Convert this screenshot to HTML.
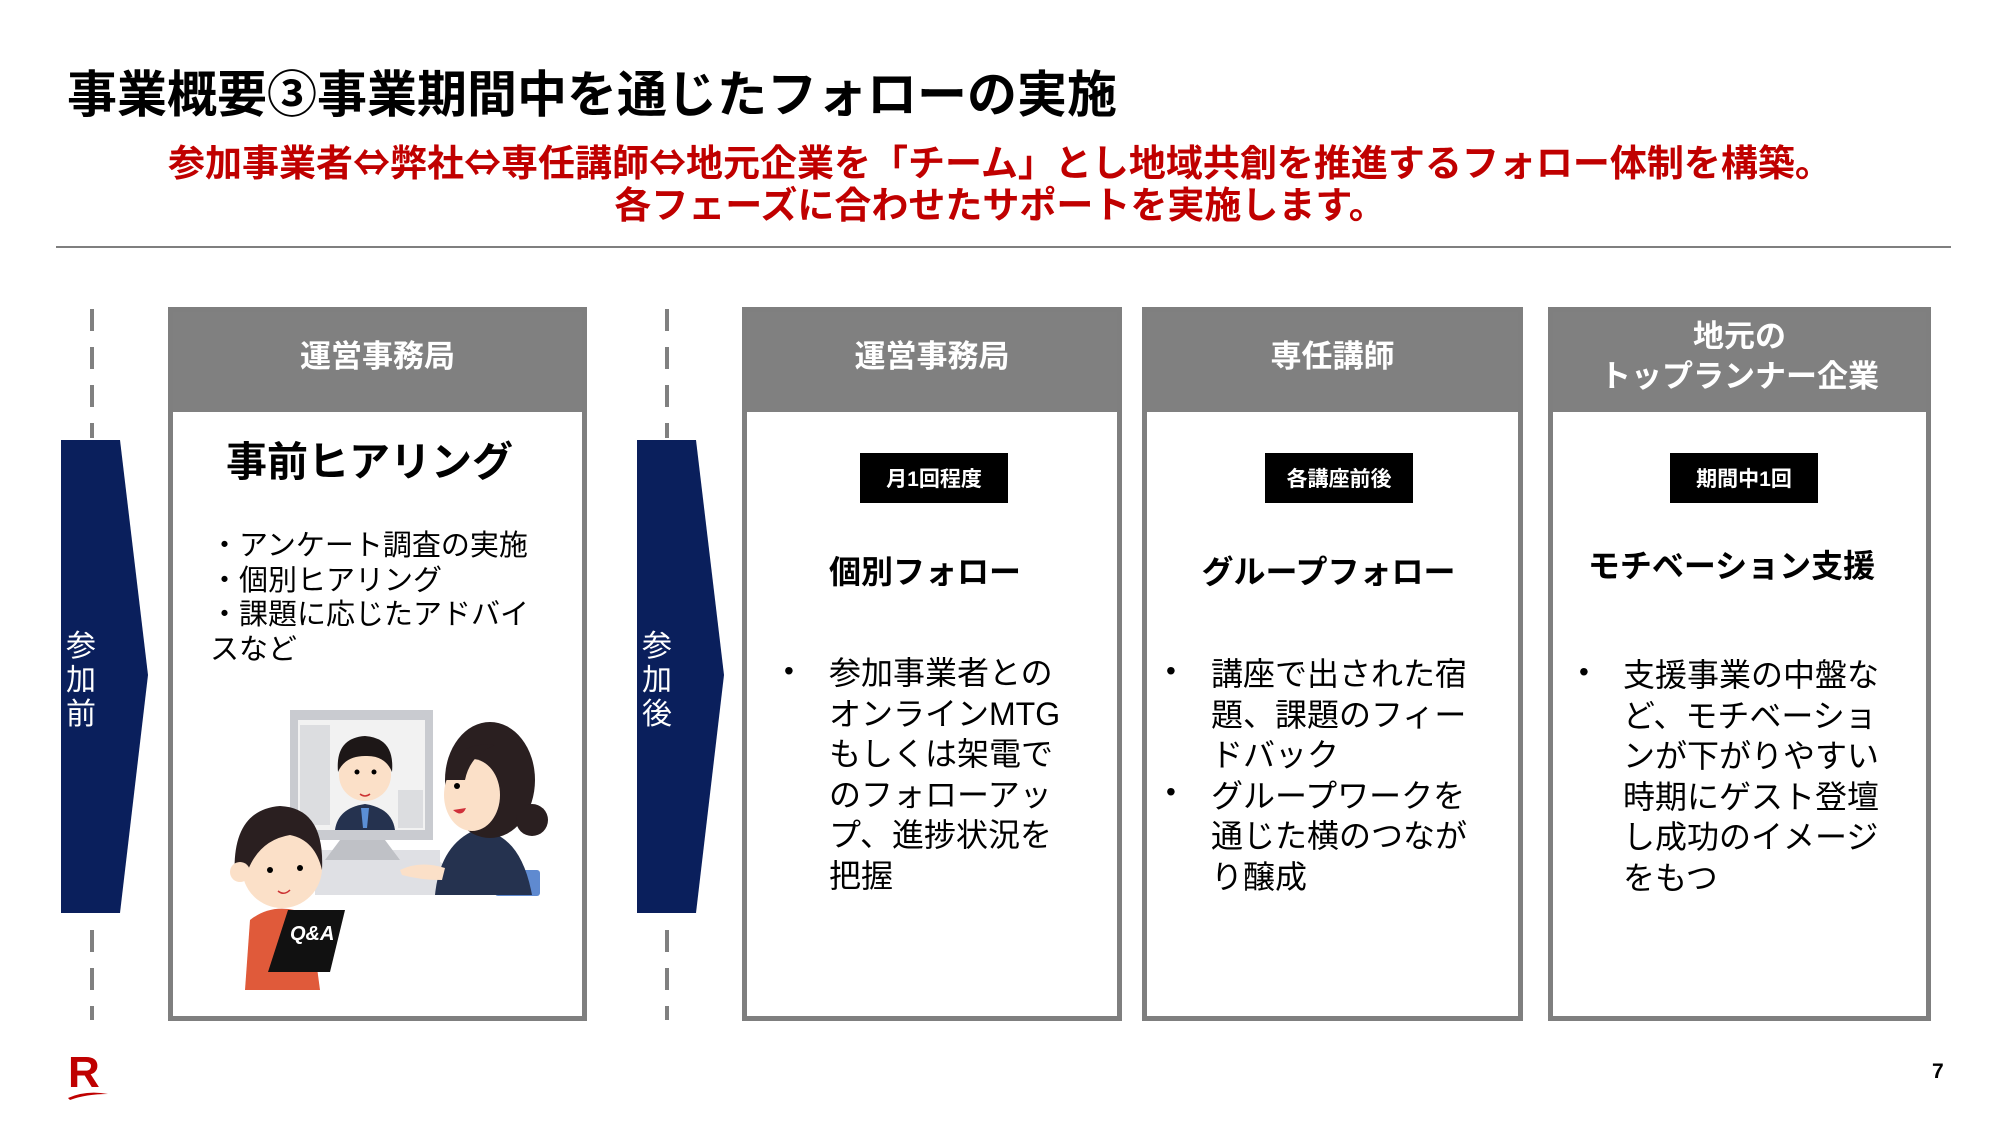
<!DOCTYPE html>
<html><head><meta charset="utf-8">
<style>
*{margin:0;padding:0;box-sizing:border-box}
body{width:2000px;height:1125px;background:#fff;position:relative;overflow:hidden;font-family:"Liberation Sans","Noto Sans CJK JP",sans-serif;color:#000}
.a{position:absolute}
.title{left:67px;top:61px;font-size:50px;font-weight:bold;line-height:60px;white-space:nowrap;font-family:"Noto Sans CJK JP",sans-serif}
.red{left:0;width:2000px;text-align:center;color:#c00000;font-weight:bold;font-size:37px;line-height:42px;white-space:nowrap;font-family:"Noto Sans CJK JP",sans-serif}
.box{position:absolute;top:307px;height:714px;border:5px solid #7f7f7f;background:#fff}
.hd{position:absolute;left:0;right:0;top:0;height:100px;padding-bottom:10px;background:#808080;color:#fff;font-weight:bold;font-size:31px;display:flex;align-items:center;justify-content:center;text-align:center;line-height:40px}
.tag{position:absolute;top:453px;height:50px;background:#000;color:#fff;font-weight:bold;font-size:21px;display:flex;align-items:center;justify-content:center}
.st{position:absolute;font-weight:bold;font-size:32px;text-align:center;white-space:nowrap;line-height:40px}
.body{position:absolute;font-size:32px;line-height:40.5px}
.bul{position:absolute;font-size:28px}
</style></head><body>
<div class="a title">事業概要③事業期間中を通じたフォローの実施</div>
<div class="a red" style="top:139px">参加事業者⇔弊社⇔専任講師⇔地元企業を「チーム」とし地域共創を推進するフォロー体制を構築。</div>
<div class="a red" style="top:181px">各フェーズに合わせたサポートを実施します。</div>
<div class="a" style="left:56px;top:246px;width:1895px;height:2px;background:#7f7f7f"></div>

<svg class="a" style="left:0;top:0" width="800" height="1125">
<g stroke="#808080" stroke-width="4" stroke-dasharray="22,16">
<line x1="92" y1="309" x2="92" y2="438"/>
<line x1="92" y1="930" x2="92" y2="1020"/>
<line x1="667" y1="309" x2="667" y2="438"/>
<line x1="667" y1="930" x2="667" y2="1020"/>
</g>
<polygon points="61,440 120,440 148,675 120,913 61,913" fill="#0a1f5c"/>
<polygon points="637,440 696,440 724,675 696,913 637,913" fill="#0a1f5c"/>
</svg>
<div class="a" style="left:66px;top:630px;width:34px;font-size:30px;line-height:34px;color:#fff">参<br>加<br>前</div>
<div class="a" style="left:642px;top:630px;width:34px;font-size:30px;line-height:34px;color:#fff">参<br>加<br>後</div>

<div class="box" style="left:168px;width:419px"><div class="hd">運営事務局</div></div>
<div class="st" style="left:160px;width:419px;top:440px;font-size:41px;line-height:44px">事前ヒアリング</div>
<div class="a" style="left:210px;top:529px;font-size:29px;line-height:34.5px;width:340px">・アンケート調査の実施<br>・個別ヒアリング<br>・課題に応じたアドバイ<br>スなど</div>

<svg class="a" style="left:220px;top:700px" width="340" height="300" viewBox="0 0 340 300">
<ellipse cx="160" cy="172" rx="68" ry="22" fill="#e6e6e8"/>
<rect x="95" y="150" width="125" height="45" fill="#dfe0e4"/>
<rect x="70" y="10" width="143" height="130" fill="#c9cbd0"/>
<rect x="78" y="20" width="127" height="110" fill="#f2f2f2"/>
<rect x="80" y="25" width="30" height="100" fill="#dcdde0"/>
<rect x="178" y="90" width="25" height="38" fill="#dcdde0"/>
<polygon points="120,140 165,140 180,160 105,160" fill="#bfc1c6"/>
<path d="M115,130 Q118,108 145,104 Q172,108 175,130 Z" fill="#25324f"/>
<polygon points="141,108 149,108 147,128 143,128" fill="#5b8fd6"/>
<circle cx="145" cy="75" r="26" fill="#fbe0c8"/>
<path d="M118,72 Q115,38 145,36 Q175,38 172,72 Q165,55 145,56 Q125,56 118,72 Z" fill="#1d1717"/>
<circle cx="137" cy="72" r="2.5" fill="#000"/><circle cx="154" cy="72" r="2.5" fill="#000"/>
<path d="M140,94 Q145,98 150,94" stroke="#c33" stroke-width="1.5" fill="none"/>
<rect x="275" y="170" width="45" height="26" rx="3" fill="#5f8ad0"/>
<path d="M215,195 Q220,145 255,130 Q300,130 312,195 Z" fill="#25324f"/>
<path d="M180,170 Q200,160 225,168 L222,180 Q200,180 182,175 Z" fill="#fbe0c8"/>
<ellipse cx="270" cy="80" rx="45" ry="58" fill="#2a1f20"/>
<ellipse cx="252" cy="95" rx="28" ry="36" fill="#fbe0c8"/>
<path d="M225,80 Q235,40 275,45 Q250,55 245,80 Z" fill="#2a1f20"/>
<circle cx="312" cy="120" r="16" fill="#2a1f20"/>
<circle cx="237" cy="86" r="3" fill="#000"/>
<path d="M233,110 Q242,118 246,108 Z" fill="#d0303a"/>
<path d="M25,290 L30,220 Q55,200 90,215 L100,290 Z" fill="#e05a3a"/>
<circle cx="62" cy="168" r="40" fill="#fbe0c8"/>
<path d="M15,180 Q10,110 60,106 Q105,108 102,170 Q95,140 70,135 Q40,140 28,170 Z" fill="#2a1f20"/>
<circle cx="20" cy="172" r="10" fill="#fbe0c8"/>
<circle cx="50" cy="170" r="3" fill="#000"/><circle cx="80" cy="168" r="3" fill="#000"/>
<path d="M58,191 Q64,196 70,190" stroke="#c33" stroke-width="1.5" fill="none"/>
<polygon points="68,210 125,210 110,272 48,272" fill="#111"/>
<text x="70" y="240" font-family="Liberation Sans,sans-serif" font-weight="bold" font-style="italic" font-size="20" fill="#fff">Q&amp;A</text>
</svg>

<div class="box" style="left:742px;width:380px"><div class="hd">運営事務局</div></div>
<div class="tag" style="left:860px;width:148px">月1回程度</div>
<div class="st" style="left:735px;width:380px;top:552px">個別フォロー</div>
<div class="bul" style="left:784px;top:655px">•</div>
<div class="body" style="left:829px;top:653px;width:270px">参加事業者との<br>オンラインMTG<br>もしくは架電で<br>のフォローアッ<br>プ、進捗状況を<br>把握</div>

<div class="box" style="left:1142px;width:381px"><div class="hd">専任講師</div></div>
<div class="tag" style="left:1265px;width:148px">各講座前後</div>
<div class="st" style="left:1138px;width:381px;top:552px">グループフォロー</div>
<div class="bul" style="left:1166px;top:655px">•</div>
<div class="bul" style="left:1166px;top:776px">•</div>
<div class="body" style="left:1211px;top:654px;width:280px">講座で出された宿<br>題、課題のフィー<br>ドバック<br>グループワークを<br>通じた横のつなが<br>り醸成</div>

<div class="box" style="left:1548px;width:383px"><div class="hd">地元の<br>トップランナー企業</div></div>
<div class="tag" style="left:1670px;width:148px">期間中1回</div>
<div class="st" style="left:1540px;width:383px;top:546px">モチベーション支援</div>
<div class="bul" style="left:1579px;top:656px">•</div>
<div class="body" style="left:1623px;top:655px;width:280px">支援事業の中盤な<br>ど、モチベーショ<br>ンが下がりやすい<br>時期にゲスト登壇<br>し成功のイメージ<br>をもつ</div>

<div class="a" style="left:68px;top:1050px;font-size:44px;font-weight:bold;color:#bf0000;line-height:46px">R</div>
<svg class="a" style="left:66px;top:1088px" width="44" height="14"><path d="M2,10 Q20,2 42,6 Q20,6 4,12 Z" fill="#bf0000"/></svg>
<div class="a" style="left:1932px;top:1060px;font-size:21px;font-weight:bold">7</div>
</body></html>
